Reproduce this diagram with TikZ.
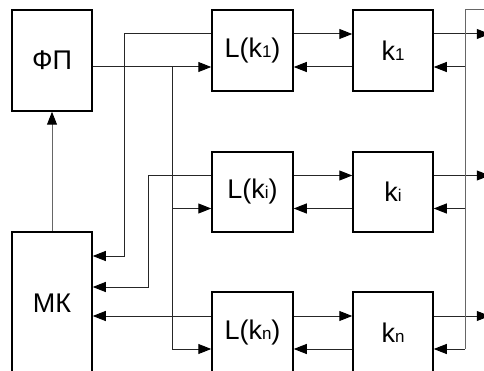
\documentclass[tikz,border=0pt]{standalone}
\usepackage{fontspec}
\setmainfont{Liberation Sans}
\usetikzlibrary{arrows.meta}
\newcommand\sbs[1]{{\fontsize{17}{17}\selectfont #1}}
\begin{document}
\begin{tikzpicture}[x=1pt,y=-1pt,
  blk/.style={draw=black,line width=1.5pt,minimum width=81pt,minimum height=81pt,inner sep=0pt,font=\fontsize{27}{29}\selectfont},
  con/.style={line width=1pt,draw=black!85},
  arr/.style={con,-{Triangle[length=13pt,width=10pt,color=black,fill=black]}}]
\useasboundingbox (0,0) rectangle (484,371);
\clip (0,0) rectangle (484,371);
% blocks
\node[blk,minimum width=80pt,minimum height=101pt] (fp) at (52,60.5) {ФП};
\node[blk,minimum width=80pt,minimum height=142pt] (mk) at (52,303) {МК};
\node[blk] (L1) at (252.5,50.5) {L(k\sbs{1})};
\node[blk,minimum width=80pt] (K1) at (393,50.5) {k\sbs{1}};
\node[blk,minimum height=80pt] (Li) at (252.5,192) {L(k\sbs{i})};
\node[blk,minimum width=80pt,minimum height=80pt] (Ki) at (393,192) {k\sbs{i}};
\node[blk] (Ln) at (252.5,332.5) {L(k\sbs{n})};
\node[blk,minimum width=80pt] (Kn) at (393,332.5) {k\sbs{n}};
% port coordinates
\foreach \r in {1,i,n}{
  \coordinate (Lf\r) at ([yshift=16.5pt]L\r.west);
  \coordinate (Lb\r) at ([yshift=-16.5pt]L\r.west);
  \coordinate (LEf\r) at ([yshift=16.5pt]L\r.east);
  \coordinate (LEb\r) at ([yshift=-16.5pt]L\r.east);
  \coordinate (Kf\r) at ([yshift=16.5pt]K\r.west);
  \coordinate (Kb\r) at ([yshift=-16.5pt]K\r.west);
  \coordinate (KEf\r) at ([yshift=16.5pt]K\r.east);
  \coordinate (KEb\r) at ([yshift=-16.5pt]K\r.east);
  \coordinate (out\r) at ([xshift=56pt]KEf\r);
}
% L <-> k
\foreach \r in {1,i,n}{
  \draw[arr] (LEf\r) -- (Kf\r);
  \draw[arr] (Kb\r) -- (LEb\r);
  \draw[arr] (KEf\r) -- (out\r);
}
% right bus
\coordinate (btop) at (490,10);
\coordinate (bus) at (465,10);
\draw[con,draw=black!60] (btop) -- (bus) -- (bus |- KEbn);
\foreach \r in {1,i,n}{
  \draw[arr] (bus |- KEb\r) -- (KEb\r);
}
% left side
\draw[arr] (fp.east |- Lb1) -- (Lb1);
\coordinate (jx) at (172,0);
\draw[arr] (jx |- Lb1) |- (Lbn);
\draw[arr] (jx |- Lbi) -- (Lbi);
\coordinate (c1) at (124,256);
\coordinate (c2) at (148,287);
\draw[arr] (Lf1) -| (c1) -- (mk.east |- c1);
\draw[arr] (Lfi) -| (c2) -- (mk.east |- c2);
\draw[arr] (Lfn) -- (mk.east |- Lfn);
\draw[arr,draw=black!60] (mk.north) -- (fp.south);
\end{tikzpicture}
\end{document}
